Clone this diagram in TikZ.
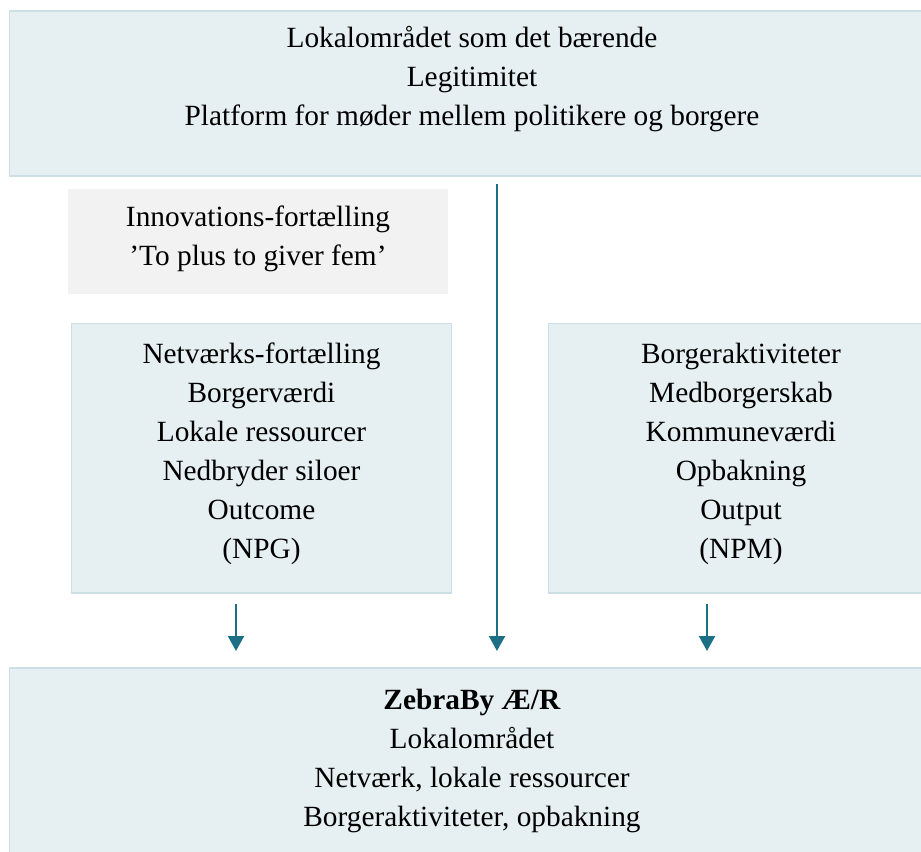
\documentclass[tikz,border=0pt]{standalone}
\usepackage{fontspec}
\setmainfont{Liberation Serif}
\usetikzlibrary{arrows.meta}

\definecolor{boxfill}{HTML}{E6EFF2}
\definecolor{boxline}{HTML}{CCDFE6}
\definecolor{greyfill}{HTML}{F2F2F2}
\definecolor{arrowcol}{HTML}{1D6F85}

\tikzset{
  box/.style={draw=boxline, line width=0.6pt, fill=boxfill, inner sep=0pt},
  greybox/.style={fill=greyfill, inner sep=0pt},
  txt/.style={align=center, inner sep=0pt, font=\fontsize{16.7}{22.2}\selectfont},
  flow/.style={-{Triangle[length=0.3cm,width=0.32cm]}, line width=0.045cm, draw=arrowcol}
}

\begin{document}
\begin{tikzpicture}[x=0.02cm,y=-0.02cm]
				\useasboundingbox (0,0) rectangle (921,852);
				% boxes
				\node[box, minimum width=18.52cm, minimum height=3.3cm] (top) at (472,93.5) {};
				\node[greybox, minimum width=7.6cm, minimum height=2.1cm] (innov) at (258,241.5) {};
				\node[box, minimum width=7.62cm, minimum height=5.4cm] (netv) at (261.5,458) {};
				\node[box, minimum width=7.72cm, minimum height=5.4cm] (borg) at (741,458) {};
				\node[box, minimum width=18.52cm, minimum height=4.2cm] (zebra) at (472,773) {};
				% texts
				\node[txt] (toptxt) at (472,79) {Lokalområdet som det bærende\\Legitimitet\\Platform for møder mellem politikere og borgere};
				\node[txt] (innovtxt) at (258,239) {Innovations-fortælling\\’To plus to giver fem’};
				\node[txt] (netvtxt) at (261.5,454) {Netværks-fortælling\\Borgerværdi\\Lokale ressourcer\\Nedbryder siloer\\Outcome\\(NPG)};
				\node[txt] (borgtxt) at (741,454) {Borgeraktiviteter\\Medborgerskab\\Kommuneværdi\\Opbakning\\Output\\(NPM)};
				\node[txt] (zebratxt) at (472,761) {\textbf{ZebraBy Æ/R}\\Lokalområdet\\Netværk, lokale ressourcer\\Borgeraktiviteter, opbakning};
				% arrows
				\coordinate (c1) at (497,184);
				\coordinate (c2) at (497,651);
				\coordinate (l1) at (236,604);
				\coordinate (l2) at (236,651);
				\coordinate (r1) at (707,604);
				\coordinate (r2) at (707,651);
				\draw[flow] (c1) -- (c2);
				\draw[flow] (l1) -- (l2);
				\draw[flow] (r1) -- (r2);
			\end{tikzpicture}
\end{document}
